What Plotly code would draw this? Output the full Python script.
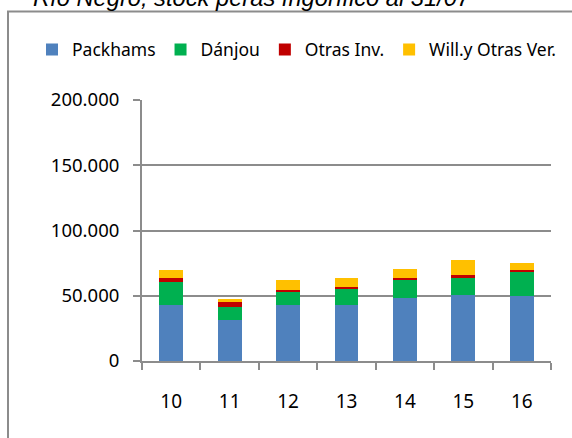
import plotly.graph_objects as go

years = ["10", "11", "12", "13", "14", "15", "16"]
packhams = [42800, 31600, 42800, 42800, 48400, 50500, 49700]
danjou = [17600, 9700, 10500, 13000, 14300, 13700, 18300]
otras_inv = [3000, 3800, 1000, 800, 800, 1500, 1600]
will_otras = [6100, 2300, 7600, 6900, 6800, 11500, 5300]

series = [
    ("Packhams", packhams, "#4F81BD"),
    ("Dánjou", danjou, "#00B050"),
    ("Otras Inv.", otras_inv, "#C00000"),
    ("Will.y Otras Ver.", will_otras, "#FFC000"),
]

W, H = 572, 438
L, R, T, B = 142, 21, 100, 77
pw, ph = W - L - R, H - T - B

def px_x(p):
    return (p - L) / pw

def px_y(p):
    return (H - B - p) / ph

fig = go.Figure()
for name, vals, col in series:
    fig.add_trace(go.Bar(x=years, y=vals, name=name, marker=dict(color=col, line=dict(width=0))))

grid = "#8c8c8c"
fig.update_layout(
    width=W, height=H,
    margin=dict(l=L, r=R, t=T, b=B, autoexpand=False),
    barmode="stack", bargap=0.59,
    paper_bgcolor="white", plot_bgcolor="white",
    separators=",.",
    font=dict(family="Noto Sans", size=18, color="#000000"),
    showlegend=True,
    legend=dict(orientation="h", xref="paper", yref="paper",
                x=px_x(32), y=px_y(49.5), xanchor="left", yanchor="middle",
                font=dict(size=17.5), itemwidth=30, traceorder="normal",
                bgcolor="rgba(0,0,0,0)"),
    xaxis=dict(type="category", showgrid=False, showline=True, linecolor=grid, linewidth=2,
               ticks="outside", ticklen=7, tickwidth=2, tickcolor=grid, tickson="boundaries",
               ticklabelstandoff=22, tickfont=dict(size=19)),
    yaxis=dict(range=[0, 200000], tickvals=[0, 50000, 100000, 150000, 200000],
               tickformat=",d", showgrid=True, gridcolor=grid, gridwidth=2,
               showline=True, linecolor=grid, linewidth=2, zeroline=False,
               ticks="outside", ticklen=7, tickwidth=2, tickcolor=grid,
               ticklabelstandoff=10, tickfont=dict(size=18.5)),
    shapes=[dict(type="rect", xref="paper", yref="paper",
                 x0=px_x(8), x1=px_x(590), y0=px_y(460), y1=px_y(11.5),
                 line=dict(color="#8c8c8c", width=2), fillcolor="rgba(0,0,0,0)", layer="below")],
    annotations=[dict(text="<i>Río Negro, stock peras frigorífico al 31/07</i>",
                      xref="paper", yref="paper", x=px_x(31), y=px_y(-2.5),
                      xanchor="left", yanchor="middle", showarrow=False,
                      font=dict(family="Liberation Sans", size=23.7, color="#000000"))],
)

fig.write_html("out.html", config={"displayModeBar": False},
               post_script="document.body.style.margin='0';document.body.style.overflow='hidden';")
